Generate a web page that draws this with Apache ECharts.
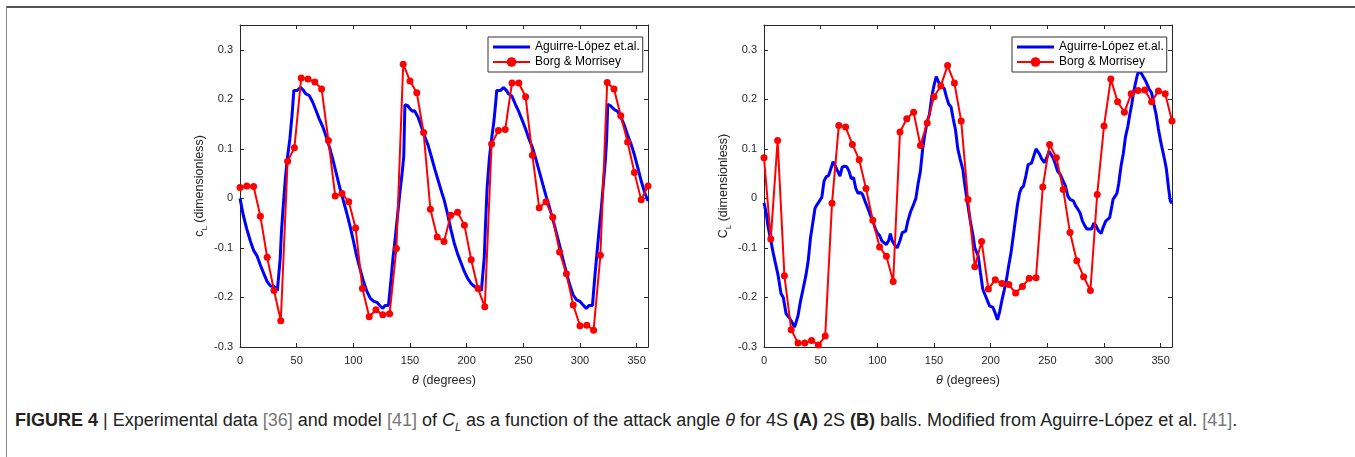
<!DOCTYPE html>
<html lang="en">

<head>
  <meta charset="UTF-8">
  <title>FIGURE 4 - lift coefficient vs attack angle</title>
  <script src="https://cdn.jsdelivr.net/npm/echarts@6/dist/echarts.min.js"></script>
  <style>
    * {
      margin: 0;
      padding: 0;
      box-sizing: border-box;
    }

    body {
      width: 1355px;
      height: 457px;
      background: #fff;
      overflow: hidden;
      position: relative;
      font-family: "Liberation Sans", Arial, sans-serif;
    }

    /* frame of the figure box */
    .frame {
      position: absolute;
      left: 6px;
      top: 6px;
      width: 1400px;
      height: 500px;
      border-top: 2px solid #555;
      border-left: 1px solid #888;
    }

    #chart {
      position: absolute;
      left: 0;
      top: 0;
      width: 1355px;
      height: 400px;
    }

    .caption {
      position: absolute;
      left: 15px;
      top: 411px;
      font-size: 18px;
      line-height: 19px;
      color: #222;
      white-space: nowrap;
    }

    .caption .ref {
      color: #777;
    }
  </style>
</head>

<body>
  <div class="frame"></div>
  <div id="chart"></div>
  <div class="caption"><b>FIGURE 4</b> | Experimental data <span class="ref">[36]</span> and model <span class="ref">[41]</span> of <i>C<sub style="font-size:11px">L</sub></i> as a function of the attack angle <i>&theta;</i> for 4S <b>(A)</b> 2S <b>(B)</b> balls. Modified from Aguirre-López et al. <span class="ref">[41]</span>.</div>
  <script>
    // angles of the experimental points (degrees)
    const expTheta = [0, 6, 12, 18, 24, 30, 36, 42, 48, 54, 60, 66, 72, 78, 84, 90, 96, 102, 108, 114, 120,
      126, 132, 138, 144, 150, 156, 162, 168, 174, 180, 186, 192, 198, 204, 210, 216, 222, 228, 234, 240,
      246, 252, 258, 264, 270, 276, 282, 288, 294, 300, 306, 312, 318, 324, 330, 336, 342, 348, 354, 360];

    // Borg & Morrisey, 4S ball (A)
    const expA = [0.022, 0.025, 0.024, -0.036, -0.119, -0.186, -0.247, 0.075, 0.102, 0.243, 0.241,
      0.235, 0.221, 0.117, 0.005, 0.010, -0.007, -0.060, -0.182, -0.239, -0.225,
      -0.235, -0.233, -0.101, 0.271, 0.237, 0.213, 0.133, -0.022, -0.078, -0.087,
      -0.034, -0.028, -0.054, -0.124, -0.182, -0.219, 0.110, 0.137, 0.139, 0.233,
      0.233, 0.205, 0.087, -0.019, -0.007, -0.038, -0.108, -0.152, -0.215, -0.257,
      -0.256, -0.266, -0.115, 0.234, 0.221, 0.167, 0.114, 0.052, -0.003, 0.025];

    // Borg & Morrisey, 2S ball (B)
    const expB = [0.082, -0.082, 0.117, -0.156, -0.265, -0.292, -0.292, -0.287, -0.296, -0.278, -0.010,
      0.147, 0.144, 0.109, 0.078, 0.020, -0.044, -0.098, -0.117, -0.168, 0.134,
      0.161, 0.174, 0.107, 0.152, 0.205, 0.227, 0.268, 0.233, 0.156, -0.002,
      -0.138, -0.087, -0.183, -0.164, -0.172, -0.174, -0.191, -0.178, -0.161, -0.160,
      0.023, 0.109, 0.082, 0.018, -0.069, -0.126, -0.158, -0.186, 0.008, 0.146,
      0.241, 0.195, 0.174, 0.211, 0.218, 0.219, 0.195, 0.217, 0.211, 0.156];

    // Aguirre-López et.al. model, 4S ball (A): [theta, cL]
    const modelA = [[0, 0.000], [3, -0.035], [6, -0.062], [9, -0.085], [12, -0.105], [15, -0.116], [18, -0.135],
      [21, -0.152], [24, -0.168], [27, -0.177], [30, -0.178], [33, -0.186], [34.5, -0.190], [35.5, -0.12],
      [36.5, -0.07], [38, -0.02], [40, 0.04], [42, 0.085], [44, 0.12], [46, 0.17], [47.5, 0.218], [50.5, 0.218],
      [53.5, 0.224], [56, 0.218], [58, 0.211], [61, 0.208], [64, 0.195], [67, 0.178], [70, 0.16], [73, 0.145],
      [76, 0.125], [79, 0.103], [82, 0.078], [85, 0.05], [88, 0.022], [91, -0.003], [94, -0.028], [97, -0.055],
      [100, -0.085], [103, -0.117], [106, -0.143], [109, -0.168], [112, -0.188], [115, -0.202], [118, -0.208],
      [121, -0.210], [124, -0.218], [126, -0.222], [128, -0.216], [131, -0.216], [133, -0.17], [135, -0.12],
      [137, -0.08], [139, -0.035], [141, 0.01], [143, 0.05], [144.5, 0.085], [145.5, 0.189], [148, 0.187],
      [150, 0.181], [152, 0.176], [154, 0.177], [157, 0.165], [160, 0.145], [163, 0.125], [166, 0.107],
      [169, 0.083], [172, 0.058], [175, 0.035], [178, 0.012], [180, -0.002], [183, -0.03], [186, -0.062],
      [189, -0.09], [192, -0.112], [195, -0.13], [198, -0.148], [201, -0.162], [204, -0.172], [207, -0.178],
      [210, -0.182], [213, -0.186], [214.5, -0.190], [215.5, -0.12], [216.5, -0.06], [218, 0.02], [220, 0.08],
      [222, 0.12], [224, 0.155], [225.5, 0.19], [226.5, 0.218], [230, 0.218], [232.5, 0.224], [235, 0.218],
      [237, 0.211], [240, 0.206], [243, 0.19], [246, 0.175], [249, 0.158], [252, 0.14], [255, 0.12], [258, 0.103],
      [261, 0.08], [264, 0.055], [267, 0.03], [270, 0.005], [273, -0.018], [276, -0.042], [279, -0.068],
      [282, -0.095], [285, -0.123], [288, -0.15], [291, -0.175], [294, -0.195], [297, -0.205], [300, -0.208],
      [303, -0.216], [305.5, -0.222], [308, -0.216], [311, -0.216], [313, -0.16], [315, -0.11], [317, -0.06],
      [319, -0.015], [321, 0.04], [322.5, 0.08], [323.5, 0.12], [324.5, 0.19], [327, 0.187], [329, 0.182],
      [331, 0.178], [333, 0.176], [336, 0.165], [339, 0.148], [342, 0.128], [345, 0.11], [348, 0.088],
      [351, 0.062], [354, 0.035], [357, 0.012], [360, -0.005]];

    // Aguirre-López et.al. model, 2S ball (B): [theta, cL]
    const modelB = [[0, -0.009], [2, -0.03], [3.5, -0.056], [6, -0.085], [8, -0.109], [10, -0.13], [12.5, -0.156],
      [15, -0.192], [17, -0.2], [19.5, -0.233], [22, -0.24], [24, -0.247], [27, -0.26], [30, -0.237], [32, -0.21],
      [34.5, -0.183], [37, -0.155], [39, -0.126], [41, -0.08], [43, -0.05], [45, -0.02], [47, -0.012],
      [49, -0.005], [51, 0.002], [53, 0.035], [55, 0.044], [57, 0.046], [59, 0.06], [61, 0.074], [63, 0.065],
      [65, 0.055], [67, 0.045], [69, 0.063], [71, 0.065], [73, 0.064], [75, 0.055], [77, 0.04], [79, 0.042],
      [81, 0.02], [83, 0.01], [85, 0.012], [87, 0.008], [89, -0.005], [92, -0.022], [94, -0.035], [96, -0.045],
      [98, -0.06], [100, -0.07], [102, -0.075], [104, -0.086], [106, -0.09], [108, -0.093], [110, -0.085],
      [111.5, -0.071], [113, -0.085], [115, -0.093], [117.5, -0.1], [120, -0.085], [122, -0.069], [125, -0.066],
      [127, -0.045], [129.5, -0.026], [132, -0.012], [134, 0.0], [136, 0.03], [138, 0.055], [140, 0.1],
      [142, 0.13], [144, 0.155], [146, 0.17], [148, 0.205], [150, 0.228], [152, 0.246], [154, 0.235],
      [155.5, 0.228], [157, 0.224], [159, 0.222], [161, 0.205], [163, 0.19], [165, 0.185], [167, 0.16],
      [169, 0.138], [171, 0.1], [173, 0.08], [175.5, 0.058], [177, 0.03], [180, -0.015], [182, -0.045],
      [184.5, -0.076], [186, -0.1], [189, -0.116], [191, -0.15], [193, -0.183], [196, -0.2], [199, -0.217],
      [202, -0.22], [204, -0.232], [206, -0.245], [208, -0.228], [210, -0.205], [212, -0.185], [214, -0.163],
      [216, -0.135], [218, -0.109], [220, -0.075], [221.5, -0.049], [223.5, -0.015], [225.5, 0.011], [227, 0.02],
      [229, 0.025], [231, 0.045], [233, 0.068], [236, 0.071], [238, 0.085], [240, 0.1], [241.5, 0.1], [243, 0.09],
      [245, 0.08], [247.5, 0.072], [250, 0.085], [251.5, 0.095], [253, 0.09], [255, 0.082], [257, 0.07],
      [259, 0.055], [261, 0.05], [264, 0.035], [266, 0.025], [268, 0.005], [270, -0.002], [273, -0.005],
      [275, -0.015], [277, -0.022], [279, -0.03], [281, -0.046], [283, -0.055], [285, -0.062], [287, -0.062],
      [289, -0.062], [291, -0.05], [293, -0.055], [295, -0.065], [297.5, -0.071], [299, -0.06], [301.5, -0.046],
      [303, -0.043], [305, -0.039], [307, -0.015], [308, -0.002], [310, 0.005], [311.5, 0.011], [313, 0.03],
      [315, 0.065], [317, 0.09], [319, 0.125], [321, 0.145], [322.5, 0.166], [324.5, 0.19], [326, 0.213],
      [328, 0.235], [329.5, 0.25], [331.5, 0.26], [333, 0.252], [334.5, 0.246], [336.5, 0.238], [338, 0.235],
      [340, 0.22], [342, 0.213], [344, 0.19], [346, 0.169], [348, 0.14], [350, 0.115], [351.5, 0.099],
      [353.5, 0.078], [355, 0.06], [357, 0.02], [358.5, -0.005], [360, -0.01]];

    const modelName = 'Aguirre-López et.al.';
    const expName = 'Borg & Morrisey';

    const font = '"Liberation Sans", Arial, sans-serif';
    const axisColor = '#262626';

    const chart = echarts.init(document.getElementById('chart'));

    // pair the experimental angles with the values
    function pairs(values) {
      return expTheta.map((t, i) => [t, values[i]]);
    }

    function xAxisFor(gridIndex, pos) {
      const bottom = pos === 'bottom';
      return {
        type: 'value',
        gridIndex: gridIndex,
        position: pos,
        min: 0,
        max: 360,
        interval: 50,
        name: bottom ? '{t|θ} (degrees)' : '',
        nameLocation: 'middle',
        nameGap: 27,
        nameTextStyle: {
          fontFamily: font,
          fontSize: 12.5,
          color: axisColor,
          rich: {
            t: { fontFamily: font, fontSize: 12.5, fontStyle: 'italic', color: axisColor }
          }
        },
        axisLine: { show: true, onZero: false, lineStyle: { color: axisColor, width: 1 } },
        axisTick: { show: true, inside: true, length: 4, lineStyle: { color: axisColor } },
        axisLabel: {
          show: bottom,
          showMaxLabel: false,
          margin: 8,
          fontFamily: font,
          fontSize: 11,
          color: axisColor
        },
        splitLine: { show: false }
      };
    }

    function yAxisFor(gridIndex, pos, letter) {
      const left = pos === 'left';
      return {
        type: 'value',
        gridIndex: gridIndex,
        position: pos,
        min: -0.3,
        max: 0.35,
        interval: 0.1,
        name: left ? '{c|' + letter + '}{s|L}{n| (dimensionless)}' : '',
        nameLocation: 'middle',
        nameRotate: 90,
        nameGap: 32,
        nameTextStyle: {
          fontFamily: font,
          color: axisColor,
          rich: {
            c: { fontFamily: font, fontSize: 12.5, lineHeight: 16, color: axisColor },
            // subscript: top padding pushes the letter below the baseline
            s: { fontFamily: font, fontSize: 8, lineHeight: 8, padding: [9, 0, 0, 0], color: axisColor },
            n: { fontFamily: font, fontSize: 12.5, lineHeight: 16, color: axisColor }
          }
        },
        axisLine: { show: true, onZero: false, lineStyle: { color: axisColor, width: 1 } },
        axisTick: { show: true, inside: true, length: 4, lineStyle: { color: axisColor } },
        axisLabel: {
          show: left,
          showMaxLabel: false,
          margin: 7,
          fontFamily: font,
          fontSize: 11,
          color: axisColor,
          formatter: v => String(Math.round(v * 10) / 10)
        },
        splitLine: { show: false }
      };
    }

    function legendAt(x) {
      return {
        data: [
          // plain line sample, no marker, for the model
          { name: modelName, icon: 'path://M0,0L37,0L37,3L0,3Z' },
          { name: expName }
        ],
        left: x,
        top: 37,
        orient: 'vertical',
        padding: [4, 3, 4, 4],
        itemGap: 3,
        itemWidth: 37,
        itemHeight: 12,
        borderColor: '#333',
        borderWidth: 1,
        backgroundColor: '#fff',
        selectedMode: false,
        textStyle: { fontFamily: font, fontSize: 12, color: '#000' },
        z: 10
      };
    }

    function modelSeries(data, axisIdx) {
      return {
        name: modelName,
        type: 'line',
        xAxisIndex: axisIdx,
        yAxisIndex: axisIdx,
        data: data,
        showSymbol: false,
        symbol: 'none',
        lineStyle: { color: '#0000ff', width: 3 },
        itemStyle: { color: '#0000ff' },
        z: 2
      };
    }

    function expSeries(values, axisIdx) {
      return {
        name: expName,
        type: 'line',
        xAxisIndex: axisIdx,
        yAxisIndex: axisIdx,
        data: pairs(values),
        symbol: 'circle',
        symbolSize: 7,
        lineStyle: { color: '#ff0000', width: 2 },
        itemStyle: { color: '#ff0000' },
        z: 3
      };
    }

    const option = {
      animation: false,
      grid: [
        { left: 240, top: 25, width: 408, height: 322 },
        { left: 764, top: 25, width: 408, height: 322 }
      ],
      legend: [legendAt(488), legendAt(1012)],
      xAxis: [
        xAxisFor(0, 'bottom'), xAxisFor(0, 'top'),
        xAxisFor(1, 'bottom'), xAxisFor(1, 'top')
      ],
      yAxis: [
        yAxisFor(0, 'left', 'c'), yAxisFor(0, 'right'),
        yAxisFor(1, 'left', 'C'), yAxisFor(1, 'right')
      ],
      series: [
        modelSeries(modelA, 0),
        expSeries(expA, 0),
        modelSeries(modelB, 2),
        expSeries(expB, 2)
      ]
    };

    chart.setOption(option);
  </script>
</body>

</html>
